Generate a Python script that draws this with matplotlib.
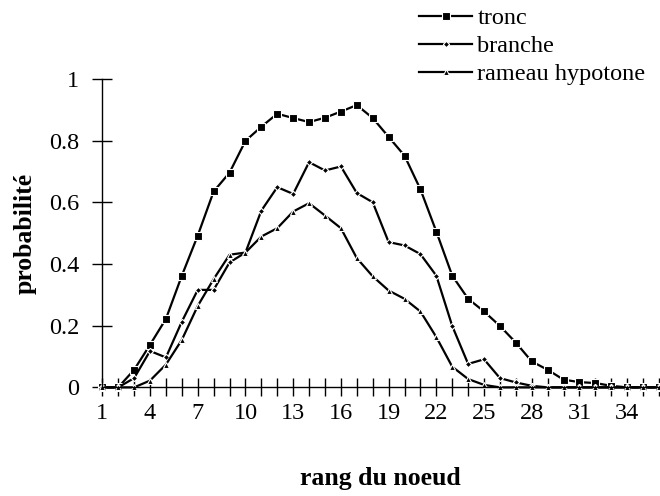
import matplotlib
matplotlib.use('Agg')
import matplotlib.pyplot as plt
from matplotlib.ticker import FuncFormatter

# Data
rang = list(range(1, 37))

tronc = [0, 0, 0.057, 0.138, 0.222, 0.362, 0.492, 0.635, 0.696, 0.799,
         0.845, 0.887, 0.873, 0.860, 0.874, 0.894, 0.915, 0.873, 0.812, 0.751,
         0.642, 0.505, 0.362, 0.287, 0.246, 0.199, 0.145, 0.084, 0.057, 0.025,
         0.017, 0.014, 0.005, 0, 0, 0]

branche = [0, 0, 0.030, 0.118, 0.097, 0.213, 0.316, 0.316, 0.405, 0.437,
           0.573, 0.649, 0.627, 0.730, 0.703, 0.716, 0.630, 0.600, 0.471, 0.460,
           0.432, 0.362, 0.199, 0.076, 0.091, 0.030, 0.016, 0.005, 0, 0,
           0, 0, 0, 0, 0, 0]

rameau = [0, 0, 0, 0.022, 0.074, 0.154, 0.264, 0.351, 0.430, 0.437,
          0.489, 0.516, 0.570, 0.597, 0.557, 0.516, 0.419, 0.360, 0.314, 0.287,
          0.246, 0.163, 0.067, 0.027, 0.008, 0, 0, 0, 0, 0,
          0, 0, 0, 0, 0, 0]

x_labels = [1, 4, 7, 10, 13, 16, 19, 22, 25, 28, 31, 34]

FONT = 'Liberation Serif'
FS = 17.5        # ticks and legend
FS_TITLE = 18.5  # axis titles

plt.rcParams['font.family'] = FONT

fig = plt.figure(figsize=(6.6, 4.96), dpi=100)
ax = fig.add_axes([0.155, 0.219, 0.8435, 0.622])

series = [
    (tronc, 's', 5.5, 'tronc'),
    (branche, 'D', 3.2, 'branche'),
    (rameau, '^', 4.2, 'rameau hypotone'),
]
for values, marker, ms, name in series:
    ax.plot(rang, values, color='black', lw=1.6, marker=marker, ms=ms,
            mfc='black', mec='white', mew=0.8, label=name, clip_on=False)

ax.set_xlim(1, 36)
ax.set_ylim(0, 1)
ax.set_xticks(rang)
ax.set_xticklabels([str(r) if r in x_labels else '' for r in rang])
ax.set_yticks([0, 0.2, 0.4, 0.6, 0.8, 1])
ax.yaxis.set_major_formatter(FuncFormatter(lambda v, p: ('%g' % v)))
ax.tick_params(direction='inout', length=13, width=1, colors='black',
               labelsize=FS, pad=5)
ax.tick_params(axis='y', length=15, pad=9)

for side in ['top', 'right']:
    ax.spines[side].set_visible(False)
for side in ['left', 'bottom']:
    ax.spines[side].set_linewidth(1)

ax.set_ylabel('probabilité', fontsize=FS_TITLE, fontweight='bold', labelpad=9)
ax.set_xlabel('rang du noeud', fontsize=FS_TITLE, fontweight='bold', labelpad=31)

fig.legend(loc='upper right', bbox_to_anchor=(1.0, 1.015), frameon=False,
           fontsize=FS, handlelength=2.2, handletextpad=0.2,
           labelspacing=0.25, borderaxespad=0.2)

fig.savefig('out.png', dpi=100)
